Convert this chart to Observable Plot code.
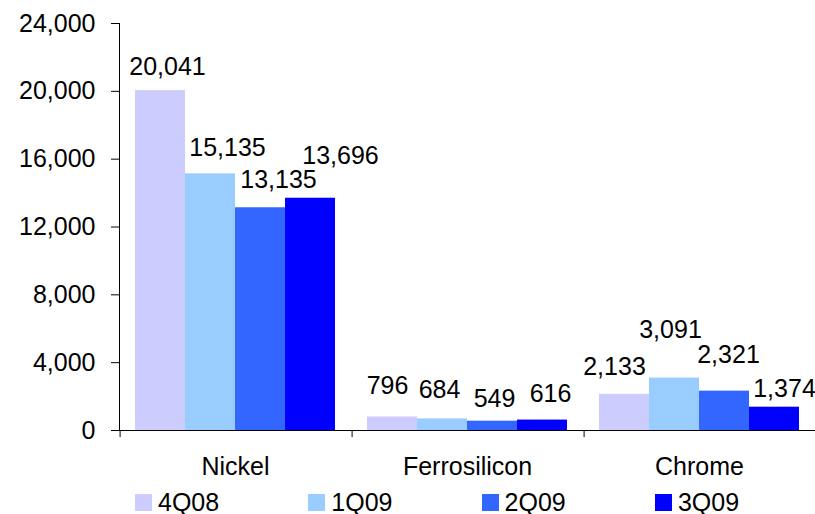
<!DOCTYPE html>
<html>
<head>
<meta charset="utf-8">
<script src="https://cdn.jsdelivr.net/npm/d3@7"></script>
<script src="https://cdn.jsdelivr.net/npm/@observablehq/plot@0.6"></script>
<style>
  body { margin: 0; background: #fff; font-family: "Liberation Sans", Arial, sans-serif; }
  #wrap { position: relative; width: 815px; height: 514px; }
  #legend { position: absolute; left: 0; top: 480px; height: 44px; width: 815px; }
  .item { position: absolute; top: 0; height: 44px; display: flex; align-items: center; font-size: 25px; color: #000; }
  .sw { width: 17px; height: 17px; margin-right: 6px; }
</style>
</head>
<body>
<div id="wrap"><div id="chart"></div><div id="legend"></div></div>
<script>
const categories = ["Nickel", "Ferrosilicon", "Chrome"];
const series = ["4Q08", "1Q09", "2Q09", "3Q09"];
const colors = ["#CCCCFF", "#99CCFF", "#3366FF", "#0000FF"];
const values = {
  "4Q08": [20041, 796, 2133],
  "1Q09": [15135, 684, 3091],
  "2Q09": [13135, 549, 2321],
  "3Q09": [13696, 616, 1374]
};
const yTicks = [0, 4000, 8000, 12000, 16000, 20000, 24000];
// label nudges (px) relative to bar centre / bar top, same order as values
const labelDx = {
  "4Q08": [7, -5, -10],
  "1Q09": [17, -3, -4],
  "2Q09": [18, 2, 4],
  "3Q09": [30, 8, 10]
};
const labelDy = {
  "4Q08": [-24, -31, -27],
  "1Q09": [-26, -29, -48],
  "2Q09": [-28, -22, -36],
  "3Q09": [-42, -26, -18]
};

const data = [];
for (const s of series) categories.forEach((c, i) => data.push({category: c, series: s, value: values[s][i], ldx: labelDx[s][i], ldy: labelDy[s][i]}));

const W = 815, H = 480, mL = 118, mR = 0;
const pad = 0.3;
const fw = (W - mL - mR) / categories.length;
const bw = fw / (series.length + 2 * pad);
const edgeDx = -(pad * bw + bw / 2);

const fmt = d3.format(",");

const labelMarks = data.map(d => Plot.text([d], {
  fx: "category", x: "series", y: "value", text: r => fmt(r.value),
  dx: d.ldx, dy: d.ldy, fill: "#000", fontSize: 25
}));

const chart = Plot.plot({
  width: W,
  height: H,
  marginLeft: mL,
  marginRight: mR,
  marginTop: 23,
  marginBottom: 50,
  style: {fontFamily: "'Liberation Sans', Arial, sans-serif", fontSize: "25px", color: "#000", background: "#fff"},
  fx: {domain: categories, padding: 0, axis: "bottom", tickSize: 0, tickPadding: 27, label: null},
  x: {domain: series, paddingInner: 0, paddingOuter: pad, axis: null},
  y: {domain: [0, 24000], ticks: yTicks, tickFormat: fmt, tickSize: 8, tickPadding: 16, line: true, label: null},
  color: {domain: series, range: colors},
  marks: [
    Plot.barY(data, {fx: "category", x: "series", y: "value", fill: "series"}),
    Plot.ruleY([0], {stroke: "#000"}),
    Plot.ruleX(categories, {fx: d => d, x: () => series[0], y1: 0, y2: -420, dx: edgeDx, stroke: "#000"}),
    ...labelMarks
  ]
});
document.getElementById("chart").appendChild(chart);

const legend = document.getElementById("legend");
series.forEach((s, i) => {
  const item = document.createElement("div");
  item.className = "item";
  item.style.left = (135 + i * 173.3) + "px";
  const sw = document.createElement("div");
  sw.className = "sw";
  sw.style.background = colors[i];
  const t = document.createElement("span");
  t.textContent = s;
  item.appendChild(sw);
  item.appendChild(t);
  legend.appendChild(item);
});
</script>
</body>
</html>
